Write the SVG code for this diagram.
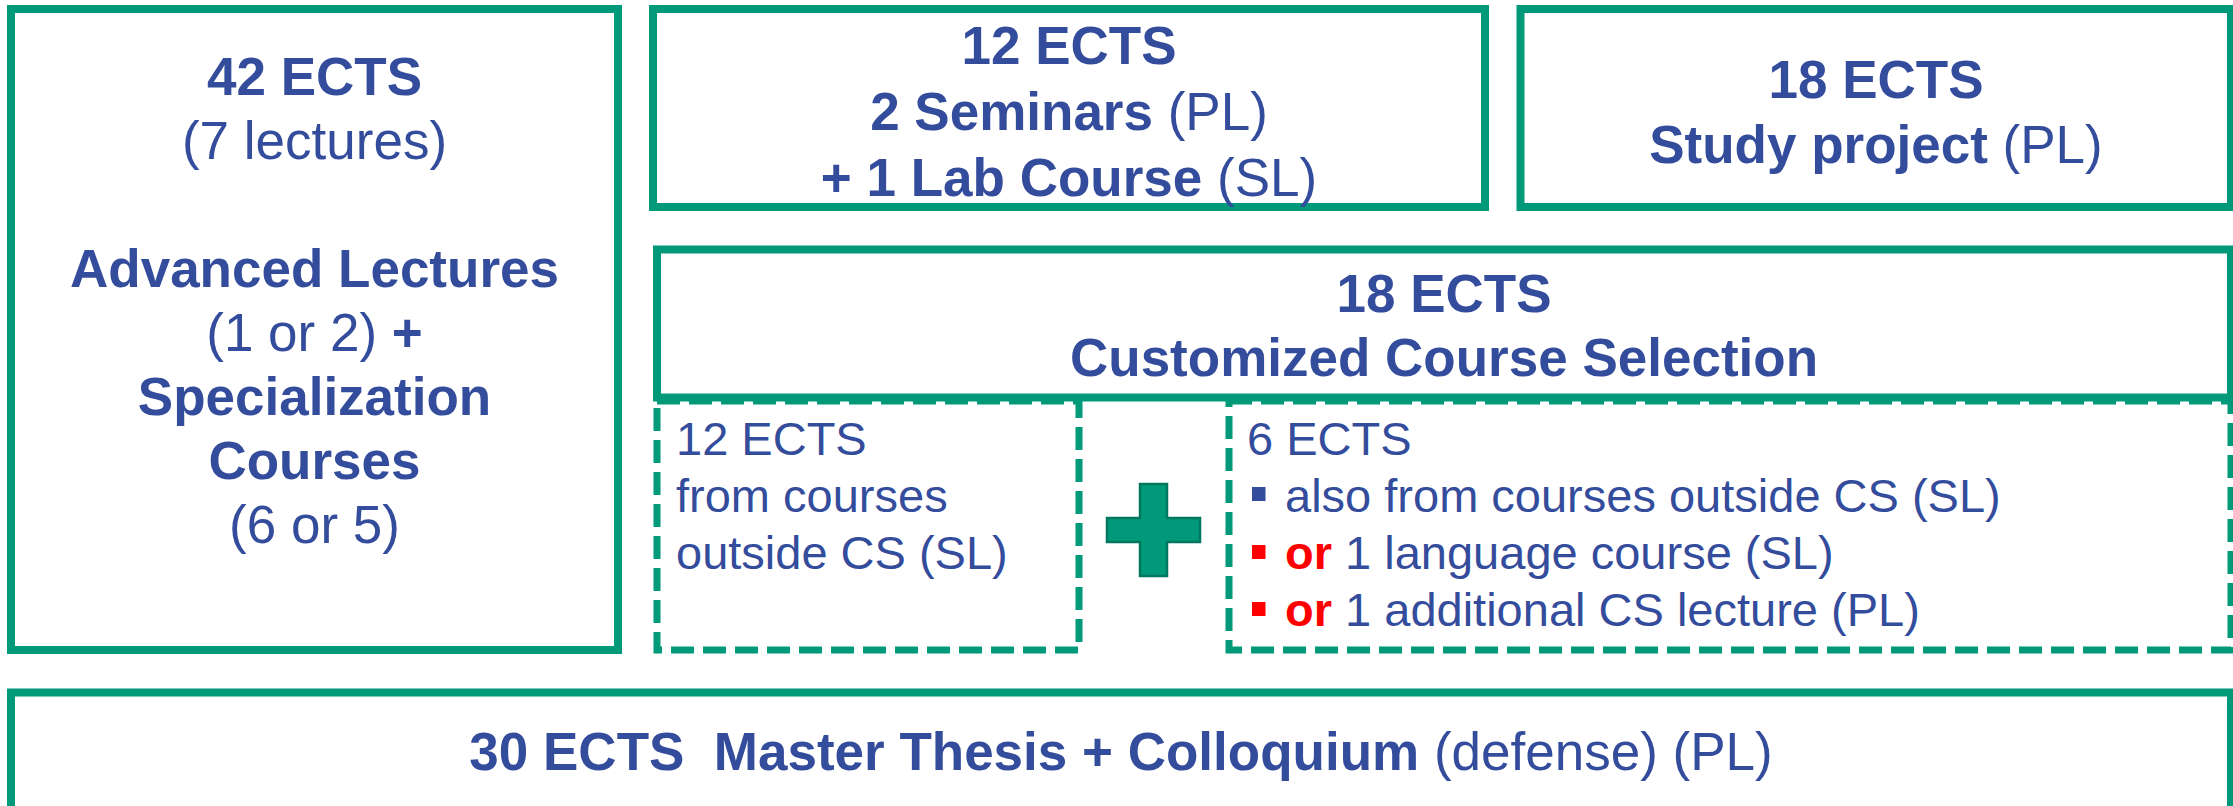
<svg xmlns="http://www.w3.org/2000/svg" width="2233" height="806" viewBox="0 0 2233 806">
<style>
.box{fill:#fff;stroke:#009A7B;stroke-width:8}
.dash{fill:none;stroke:#009A7B;stroke-width:7;stroke-dasharray:23 9}
text{font-family:"Liberation Sans",Arial,sans-serif;fill:#344C9C}
.t{font-size:53px;text-anchor:middle}
.s{font-size:47px}
.b{font-weight:bold}
.r{fill:#FF0000;font-weight:bold}
</style>
<rect width="2233" height="806" fill="#fff"/>
<g id="advanced">
<rect class="box" x="11" y="9" width="607" height="641"/>
<text class="t b" x="314.5" y="95">42 ECTS</text>
<text class="t" x="314.5" y="159">(7 lectures)</text>
<text class="t b" x="314.5" y="287">Advanced Lectures</text>
<text class="t" x="314.5" y="351">(1 or 2)<tspan class="b"> +</tspan></text>
<text class="t b" x="314.5" y="415">Specialization</text>
<text class="t b" x="314.5" y="479">Courses</text>
<text class="t" x="314.5" y="543">(6 or 5)</text>
</g>
<g id="seminars">
<rect class="box" x="653" y="9" width="832" height="198"/>
<text class="t b" x="1069" y="64">12 ECTS</text>
<text class="t" x="1069" y="130"><tspan class="b">2 Seminars</tspan> (PL)</text>
<text class="t" x="1069" y="196"><tspan class="b">+ 1 Lab Course</tspan> (SL)</text>
</g>
<g id="study">
<rect class="box" x="1520.5" y="9" width="710.5" height="198"/>
<text class="t b" x="1876" y="98">18 ECTS</text>
<text class="t" x="1876" y="163"><tspan class="b">Study project</tspan> (PL)</text>
</g>
<g id="customized">
<rect class="box" x="657" y="249.5" width="1574" height="148"/>
<text class="t b" x="1444" y="312">18 ECTS</text>
<text class="t b" x="1444" y="376">Customized Course Selection</text>
</g>
<g id="outside">
<rect class="dash" x="657" y="401" width="422" height="249"/>
<text class="s" x="676" y="455">12 ECTS</text>
<text class="s" x="676" y="512">from courses</text>
<text class="s" x="676" y="569">outside CS (SL)</text>
</g>
<g id="plus">
<path d="M1140,484 H1167 V518 H1200 V542 H1167 V576 H1140 V542 H1107 V518 H1140 Z" fill="#009A7B" stroke="#00775E" stroke-width="2.5"/>
</g>
<g id="options">
<rect class="dash" x="1229" y="401" width="1002" height="249"/>
<text class="s" x="1247" y="455">6 ECTS</text>
<rect x="1252" y="487" width="13.5" height="14" fill="#344C9C"/>
<text class="s" x="1285" y="512">also from courses outside CS (SL)</text>
<rect x="1252" y="545" width="13.5" height="14" fill="#FF0000"/>
<text class="s" x="1285" y="569"><tspan class="r">or</tspan> 1 language course (SL)</text>
<rect x="1252" y="602" width="13.5" height="14" fill="#FF0000"/>
<text class="s" x="1285" y="626"><tspan class="r">or</tspan> 1 additional CS lecture (PL)</text>
</g>
<g id="thesis">
<rect class="box" x="11" y="692.5" width="2220" height="125"/>
<text class="t" x="1121" y="770"><tspan class="b">30 ECTS&#160; Master Thesis + Colloquium</tspan> (defense) (PL)</text>
</g>
<g id="connectors"/>
</svg>
